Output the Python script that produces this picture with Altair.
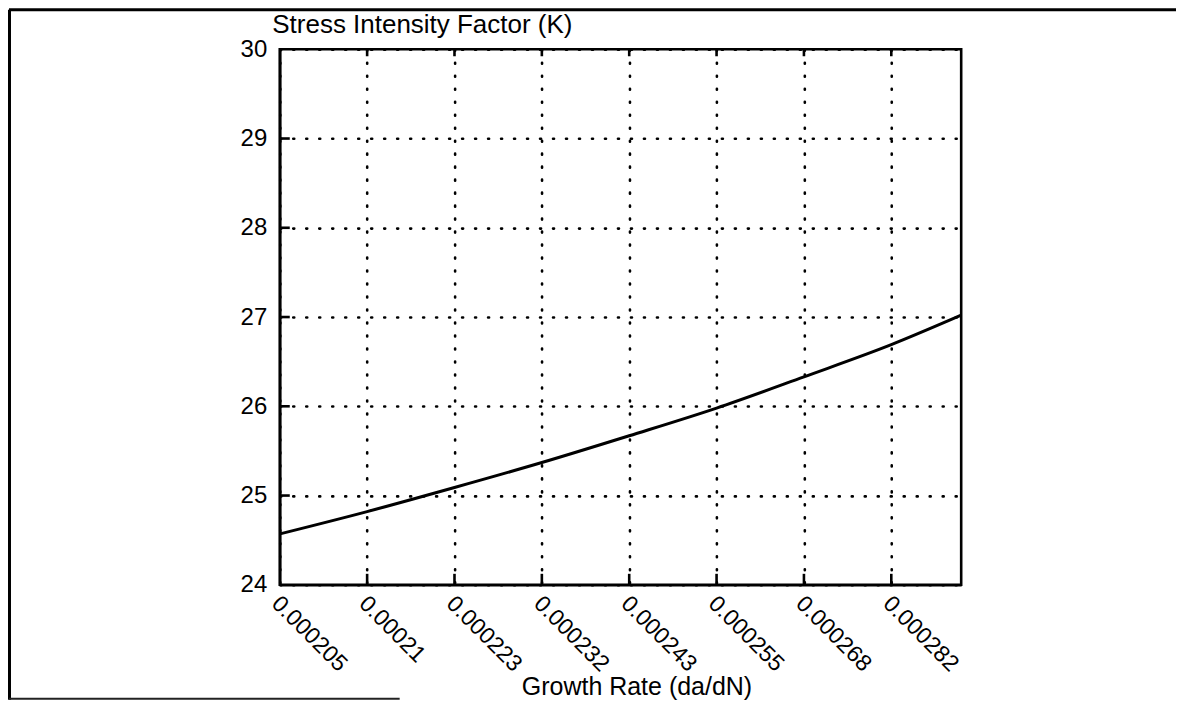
import altair as alt
import pandas as pd

# ---- data ----
x_pos = [0, 1, 2, 3, 4, 5, 6, 7, 7.8]
k_vals = [24.57, 24.82, 25.09, 25.37, 25.67, 25.98, 26.33, 26.69, 27.02]
x_tick_pos = [0, 1, 2, 3, 4, 5, 6, 7]
x_tick_labels = ["0.000205", "0.00021", "0.000223", "0.000232",
                 "0.000243", "0.000255", "0.000268", "0.000282"]
y_ticks = [24, 25, 26, 27, 28, 29, 30]
y_inner_ticks = [25, 26, 27, 28, 29]
x_inner_ticks = [1, 2, 3, 4, 5, 6, 7]
x_title = "Growth Rate (da/dN)"
y_title = "Stress Intensity Factor (K)"

W, H = 682, 536
PAD = {"left": 272, "top": 41, "right": 216, "bottom": 115}
FONT = "Liberation Sans"

label_expr = "''"
for p, l in reversed(list(zip(x_tick_pos, x_tick_labels))):
    label_expr = f"datum.value == {p} ? '{l}' : ({label_expr})"

curve_df = pd.DataFrame({"x": x_pos, "k": k_vals})
xscale = alt.Scale(domain=[0, 7.8], nice=False, zero=False)
yscale = alt.Scale(domain=[24, 30], nice=False, zero=False)

grid_common = dict(grid=True, gridColor="black", gridDash=[1, 12], gridCap="round",
                   gridWidth=2.6, gridOpacity=1, ticks=False, domain=True,
                   domainColor="black", domainWidth=2.6, labelFont=FONT,
                   labelColor="black", titleFont=FONT,
                   titleFontWeight="normal", titleColor="black")

x_axis = alt.Axis(values=x_tick_pos, labelExpr=label_expr, labelAngle=45,
                  labelAlign="left", labelBaseline="top", labelPadding=7,
                  labelOffset=3, labelOverlap=False, labelFlush=False,
                  labelFontSize=23, titleFontSize=25,
                  title=x_title, titleX=357, titleY=110, titleAlign="center",
                  titleBaseline="alphabetic", **grid_common)
y_axis = alt.Axis(values=y_ticks, format="d", labelPadding=13, labelOverlap=False,
                  labelFlush=False, labelFontSize=24, titleFontSize=26,
                  title=y_title, titleAngle=0, titleAlign="left",
                  titleBaseline="alphabetic", titleX=-8, titleY=-17, **grid_common)

curve = alt.Chart(curve_df).mark_line(
    color="black", strokeWidth=3, interpolate="monotone"
).encode(
    x=alt.X("x:Q", scale=xscale, axis=x_axis),
    y=alt.Y("k:Q", scale=yscale, axis=y_axis),
)

# inward tick marks (same field names / axes so the layers merge)
bt = alt.Chart(pd.DataFrame({"x": x_inner_ticks})).mark_rule(color="black", strokeWidth=2.6).encode(
    x=alt.X("x:Q", scale=xscale, axis=x_axis), y=alt.value(H), y2=alt.value(H - 11))
tt = alt.Chart(pd.DataFrame({"x": x_inner_ticks})).mark_rule(color="black", strokeWidth=2.6).encode(
    x=alt.X("x:Q", scale=xscale, axis=x_axis), y=alt.value(0), y2=alt.value(7))
lt = alt.Chart(pd.DataFrame({"k": y_inner_ticks})).mark_rule(color="black", strokeWidth=2.6).encode(
    y=alt.Y("k:Q", scale=yscale, axis=y_axis), x=alt.value(0), x2=alt.value(10))

# page frame lines (decoration of the scanned figure)
one = pd.DataFrame({"d": [0]})
top_line = alt.Chart(one).mark_rule(color="black", strokeWidth=3).encode(
    x=alt.value(-271), x2=alt.value(897), y=alt.value(-39.5))
left_line = alt.Chart(one).mark_rule(color="black", strokeWidth=3).encode(
    x=alt.value(-270.5), y=alt.value(-39.5), y2=alt.value(651))
bottom_line = alt.Chart(one).mark_rule(color="#222222", strokeWidth=2).encode(
    x=alt.value(-271), x2=alt.value(120), y=alt.value(650))

chart = alt.layer(curve, bt, tt, lt, top_line, left_line, bottom_line).properties(
    width=W, height=H,
    autosize=alt.AutoSizeParams(type="none"),
    padding=PAD,
    background="white",
).configure_view(stroke="black", strokeWidth=2.6)

chart.save("out.html", embed_options={"renderer": "svg", "actions": False})
